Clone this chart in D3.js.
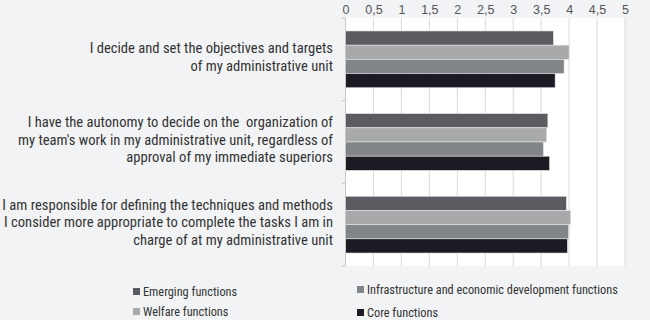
<!DOCTYPE html>
<html>
<head>
<meta charset="utf-8">
<script src="https://cdn.jsdelivr.net/npm/d3@7"></script>
<style>
  body { margin: 0; background: #f2f3f5; }
  svg { display: block; font-family: "Liberation Sans Narrow", "Arial Narrow", "Roboto Condensed", sans-serif; }
</style>
</head>
<body>
<div class="chart"></div>
<script>
const categories = [
  ["I decide and set the objectives and targets", "of my administrative unit"],
  ["I have the autonomy to decide on the  organization of", "my team's work in my administrative unit, regardless of", "approval of my immediate superiors"],
  ["I am responsible for defining the techniques and methods", "I consider more appropriate to complete the tasks I am in", "charge of at my administrative unit"]
]
const seriesNames = ["Emerging functions", "Welfare functions", "Infrastructure and economic development functions", "Core functions"]
const seriesColors = ["#5b5c61", "#a7a9ab", "#818587", "#1c1a22"]
const emerging = [3.72, 3.62, 3.95]
const welfare = [4.00, 3.60, 4.03]
const infrastructure = [3.91, 3.54, 3.99]
const core = [3.75, 3.65, 3.97]
const ticks = [0, 0.5, 1, 1.5, 2, 2.5, 3, 3.5, 4, 4.5, 5]

const series = [emerging, welfare, infrastructure, core]
const width = 650, height = 320

const svg = d3.select(".chart").append("svg")
  .attr("width", width)
  .attr("height", height)

const x = d3.scaleLinear().domain([0, 5]).range([345.5, 625])
const y = d3.scaleBand().domain(d3.range(categories.length)).range([18, 266])
  .paddingInner(0.313).paddingOuter(0.157)
const yBar = d3.scaleBand().domain(d3.range(series.length)).range([0, y.bandwidth()])

// plot background
svg.append("rect")
  .attr("x", x(0)).attr("y", 18)
  .attr("width", x(5) - x(0)).attr("height", 248)
  .style("fill", "#ffffff")

// grid lines
svg.selectAll(".grid")
  .data(ticks.slice(1))
  .enter().append("line")
  .attr("class", "grid")
  .attr("x1", d => x(d)).attr("x2", d => x(d))
  .attr("y1", 18).attr("y2", 266)
  .style("stroke", "#d9d9d9")
  .style("stroke-width", 1)

// top axis
const xAxis = svg.append("g")
  .attr("transform", "translate(0,18)")
  .call(d3.axisTop(x).tickValues(ticks).tickSize(0).tickPadding(4)
    .tickFormat(d => String(d).replace(".", ",")))
xAxis.select(".domain").remove()
xAxis.selectAll("text")
  .style("font-family", "inherit")
  .style("font-size", "12.5px")
  .style("fill", "#555")

// bars
const groups = svg.selectAll(".group")
  .data(categories)
  .enter().append("g")
  .attr("class", "group")
  .attr("transform", (d, i) => "translate(0," + y(i) + ")")

groups.selectAll("rect")
  .data((d, i) => series.map((s, j) => ({ value: s[i], j: j })))
  .enter().append("rect")
  .attr("x", x(0))
  .attr("y", d => yBar(d.j))
  .attr("width", d => x(d.value) - x(0))
  .attr("height", yBar.bandwidth())
  .style("fill", d => seriesColors[d.j])
  .style("stroke", "#e6e6e6")
  .style("stroke-width", 0.6)

// left axis line and ticks at category boundaries
svg.append("line")
  .attr("x1", x(0)).attr("x2", x(0))
  .attr("y1", 18).attr("y2", 266)
  .style("stroke", "#c8c8c8")
const boundaries = [18, y(1) - y.step() * y.paddingInner() / 2, y(2) - y.step() * y.paddingInner() / 2, 266]
svg.selectAll(".ytick")
  .data(boundaries)
  .enter().append("line")
  .attr("x1", x(0) - 4).attr("x2", x(0))
  .attr("y1", d => d).attr("y2", d => d)
  .style("stroke", "#c8c8c8")

// category labels
const lineH = 17.5
groups.append("text")
  .attr("text-anchor", "end")
  .style("font-size", "14.6px")
  .style("white-space", "pre")
  .style("fill", "#333")
  .each(function (lines) {
    const t = d3.select(this)
    const cy = y.bandwidth() / 2 - 2.5
    lines.forEach((line, k) => {
      t.append("tspan")
        .attr("x", 333)
        .attr("y", cy + (k - (lines.length - 1) / 2) * lineH)
        .attr("dy", "0.35em")
        .text(line)
    })
  })

// legend
const legendPos = [[133, 291.5], [133, 311.5], [357, 289.5], [357, 312.5]]
const legend = svg.selectAll(".legend")
  .data(seriesNames)
  .enter().append("g")
  .attr("class", "legend")
  .attr("transform", (d, i) => "translate(" + legendPos[i][0] + "," + legendPos[i][1] + ")")
legend.append("rect")
  .attr("x", 0).attr("y", -3.5)
  .attr("width", 7).attr("height", 7)
  .style("fill", (d, i) => seriesColors[i])
legend.append("text")
  .attr("x", 10).attr("dy", "0.35em")
  .style("font-size", "12.3px")
  .style("fill", "#333")
  .text(d => d)
</script>
</body>
</html>
